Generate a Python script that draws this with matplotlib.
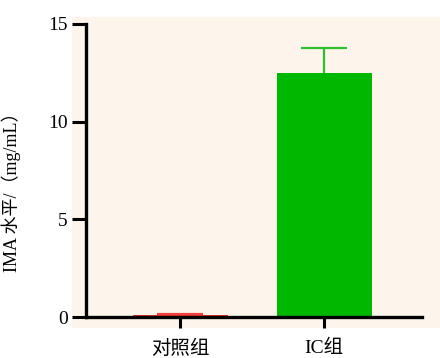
import matplotlib
matplotlib.use("Agg")
import matplotlib.pyplot as plt
from matplotlib.patches import Rectangle

groups = ["对照组", "IC组"]
means = [0.08, 12.5]
errs = [0.06, 1.25]
bar_colors = ["#e8312c", "#00b800"]
err_colors = ["#f04040", "#2cc02c"]
yticks = [0, 5, 10, 15]

plt.rcParams["font.family"] = ["Liberation Serif", "Noto Sans CJK SC"]

fig = plt.figure(figsize=(4.4, 3.58), dpi=100)
# cream panel behind the plot area
fig.patches.append(Rectangle((72 / 440, 1 - 327 / 358), 368 / 440, 310 / 358,
                             transform=fig.transFigure, color="#fdf5eb", zorder=-10))
ax = fig.add_axes([86 / 440, 1 - 317 / 358, 336 / 440, 293 / 358])
ax.patch.set_alpha(0)

x = list(range(len(groups)))
cap = 0.16
for i in x:
    ax.bar(i, means[i], width=0.66, color=bar_colors[i], zorder=2)
    top = means[i] + errs[i]
    # upper error bar only
    ax.vlines(i, means[i], top, color=err_colors[i], lw=1.6, zorder=1)
    ax.hlines(top, i - cap, i + cap, color=err_colors[i], lw=1.6, zorder=3)

ax.set_xlim(-0.653, 1.68)
ax.set_ylim(0, 15)
ax.set_yticks(yticks)
ax.set_xticks(x)
ax.set_xticklabels(groups, fontsize=14)
ax.tick_params(axis="y", labelsize=14, length=10, width=2.2, pad=3)
ax.tick_params(axis="x", length=8, width=2.2, pad=8)
for s in ["top", "right"]:
    ax.spines[s].set_visible(False)
for s in ["left", "bottom"]:
    ax.spines[s].set_linewidth(2.4)
ax.set_ylabel("IMA 水平/（mg/mL）", fontsize=13)
ax.yaxis.set_label_coords(-0.193, 0.44)

fig.savefig("out.png", dpi=100)
